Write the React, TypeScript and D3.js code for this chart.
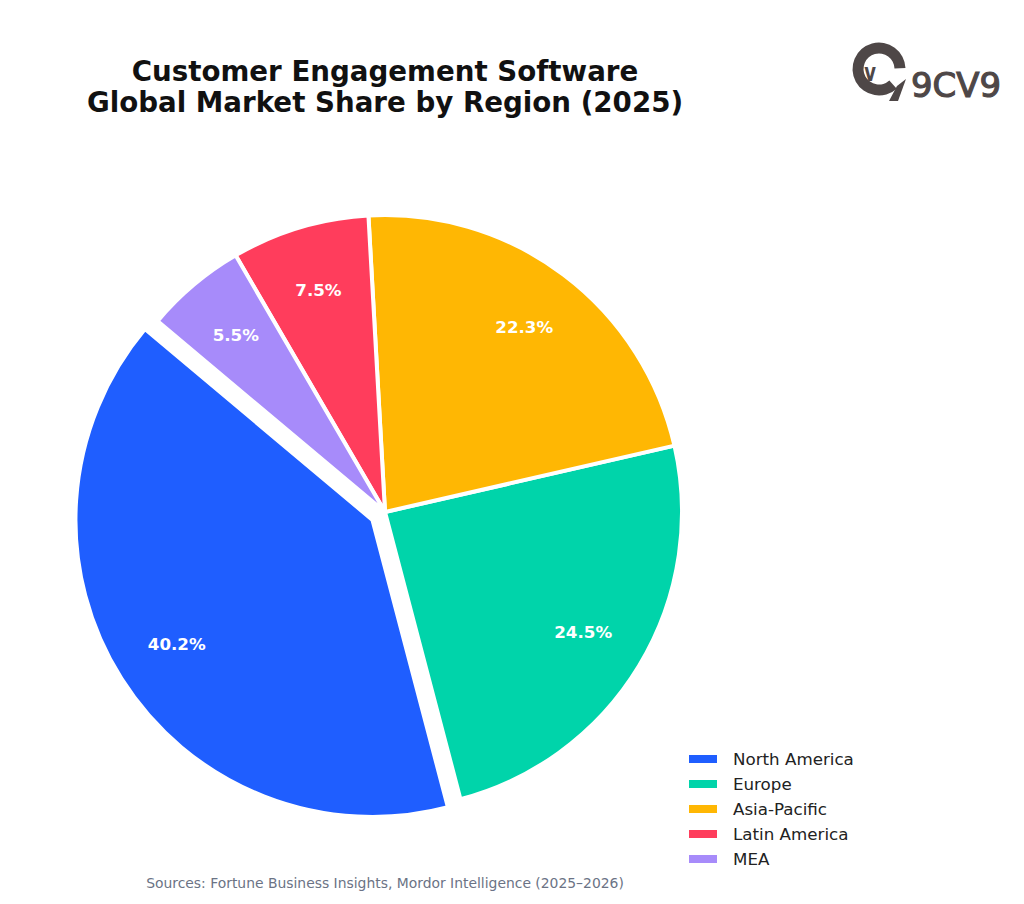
import React from "react";
import * as d3 from "d3";

// Regional shares of the customer engagement software market, 2025 (%)
const regions = ["North America", "Europe", "Asia-Pacific", "Latin America", "MEA"];
const shares = [40.2, 24.5, 22.3, 7.5, 5.5];
const colors = ["#1F5EFF", "#00D4AA", "#FFB703", "#FF3D5C", "#A78BFA"];
const explode = [0.05, 0, 0, 0, 0];

const titleLines = ["Customer Engagement Software", "Global Market Share by Region (2025)"];
const sourceNote = "Sources: Fortune Business Insights, Mordor Intelligence (2025\u20132026)";

const W = 1024;
const H = 904;
const FONT = "'DejaVu Sans', sans-serif";

export default function App() {
  const cx = 385;
  const cy = 512;
  const r = 297;

  // Counter-clockwise layout beginning 140° from the +x axis
  const start = (-50 * Math.PI) / 180;
  const pie = d3
    .pie<number>()
    .sort(null)
    .value((d) => d)
    .startAngle(start)
    .endAngle(start - 2 * Math.PI);
  const arcs = pie(shares);

  const arc = d3.arc<d3.PieArcDatum<number>>().innerRadius(0).outerRadius(r);

  // Logo ring
  const ring = d3.arc()({
    innerRadius: 15.5,
    outerRadius: 26.5,
    startAngle: (-222 * Math.PI) / 180,
    endAngle: (88 * Math.PI) / 180,
  } as any) as string;

  return (
    <svg width={W} height={H} viewBox={`0 0 ${W} ${H}`} style={{ display: "block", position: "absolute", left: 0, top: 0 }}>
      <rect width={W} height={H} fill="#ffffff" />

      {/* Title */}
      <g fontFamily={FONT} fontWeight="bold" fontSize={27.7} fill="#111111" textAnchor="middle">
        {titleLines.map((t, i) => (
          <text key={i} x={385} y={81 + i * 31}>
            {t}
          </text>
        ))}
      </g>

      {/* Pie slices */}
      <g>
        {arcs.map((a, i) => {
          const mid = (a.startAngle + a.endAngle) / 2;
          const off = explode[i] * r;
          const dx = Math.sin(mid) * off;
          const dy = -Math.cos(mid) * off;
          return (
            <path
              key={regions[i]}
              d={arc(a) as string}
              transform={`translate(${cx + dx},${cy + dy})`}
              fill={colors[i]}
              stroke="#ffffff"
              strokeWidth={4}
              strokeLinejoin="round"
            />
          );
        })}
      </g>

      {/* Percentage labels */}
      <g fontFamily={FONT} fontWeight="bold" fontSize={16.7} fill="#ffffff" textAnchor="middle">
        {arcs.map((a, i) => {
          const mid = (a.startAngle + a.endAngle) / 2;
          const dist = r * (0.78 + explode[i]);
          const x = cx + Math.sin(mid) * dist;
          const y = cy - Math.cos(mid) * dist;
          return (
            <text key={regions[i]} x={x} y={y} dy="0.36em">
              {`${a.data.toFixed(1)}%`}
            </text>
          );
        })}
      </g>

      {/* Legend */}
      <g fontFamily={FONT} fontSize={16.7} fill="#222222">
        {regions.map((name, i) => (
          <g key={name} transform={`translate(689,${759 + i * 25})`}>
            <rect x={0} y={-4} width={28} height={8} fill={colors[i]} />
            <text x={44} y={0} dy="0.36em">
              {name}
            </text>
          </g>
        ))}
      </g>

      {/* Source note */}
      <text x={385} y={888} textAnchor="middle" fontFamily={FONT} fontSize={13.9} fill="#6B7385">
        {sourceNote}
      </text>

      {/* 9CV9 logo */}
      <g fill="#4E4747">
        <path d={ring} transform="translate(879,69)" />
        <polygon points="897,86 906,79 898,101 889,101" />
        <text
          x={870}
          y={81}
          fontFamily={FONT}
          fontWeight="bold"
          fontSize={24}
          textAnchor="middle"
          transform="translate(870,0) scale(0.75,1) translate(-870,0)"
        >
          v
        </text>
        <text
          x={911}
          y={97}
          fontFamily={FONT}
          fontSize={34}
          stroke="#4E4747"
          strokeWidth={1.2}
          textLength={90}
          lengthAdjust="spacingAndGlyphs"
        >
          9CV9
        </text>
      </g>
    </svg>
  );
}
